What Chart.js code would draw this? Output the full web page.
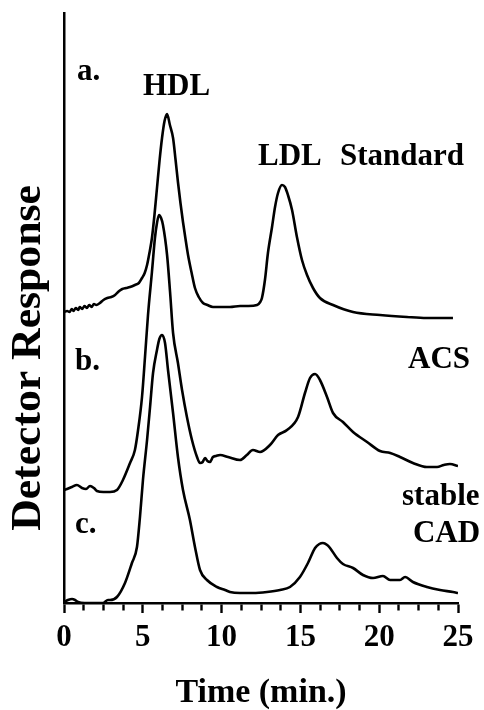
<!DOCTYPE html>
<html>
<head>
<meta charset="utf-8">
<script src="https://cdn.jsdelivr.net/npm/chart.js@4"></script>
<style>
html,body{margin:0;padding:0;background:#fff}
</style>
</head>
<body>
<canvas id="myChart" width="484" height="710"></canvas>
<script>
// values: time (min) vs detector response (arbitrary units, traces offset)
const aTime=[0,0.2,0.35,0.5,0.6,0.75,0.9,1,1.15,1.3,1.45,1.6,1.75,1.9,2.05,2.28,2.5,2.75,3,3.24,3.5,3.7,3.95,4.19,4.5,4.75,4.95,5.12,5.27,5.42,5.58,5.74,5.9,6.06,6.22,6.38,6.54,6.72,6.92,7.08,7.23,7.39,7.55,7.71,7.87,8.1,8.31,8.55,8.82,9.1,9.45,9.9,10.53,11.17,11.7,12.25,12.45,12.56,12.75,12.94,13.2,13.39,13.58,13.83,14.02,14.21,14.47,14.78,15.1,15.42,15.8,16.24,17.07,18.34,20.05,21.76,23,24.68];
const aResp=[291,292,291,294,292,295,293,296,294,297,295,298,296,299,298,300,303,305,306,308,312,314,315,316,318,320,325,330,338,350,365,388,415,442,465,482,489,478,465,443,421,400,381,364,348,330,315,306,300,298,296,296,296,297,297,298,301,305,323,350,376,396,410,418,416,408,393,366,343,328,315,305,298,291,288,286,285,285];

const bTime=[0,0.19,0.5,0.82,1.14,1.4,1.65,1.9,2.09,2.5,2.92,3.36,3.74,4.19,4.5,4.7,4.95,5.14,5.33,5.58,5.77,5.9,6.03,6.16,6.28,6.54,6.73,6.92,7.23,7.49,7.8,8.12,8.44,8.63,8.8,8.95,9.1,9.26,9.45,9.65,9.9,10.41,11.17,11.6,11.99,12.44,13.07,13.58,14.15,14.85,15.29,15.61,15.93,16.24,16.69,17.07,17.7,18.34,19.23,20.05,20.7,21.32,22.14,23.03,23.67,24.1,24.49,25];
const bResp=[113,114,116,118,115,114,117,115,112,111,111,113,123,140,153,173,206,246,288,331,365,380,388,385,378,348,311,270,240,213,186,163,146,140,141,145,142,141,146,147,148,146,143,148,153,151,158,168,173,186,210,225,229,223,206,190,181,171,161,152,150,146,140,136,136,138,139,137];

const cTime=[0,0.25,0.51,0.7,0.89,1.3,1.84,2.47,2.79,2.92,3.36,3.87,4.31,4.63,4.82,5.01,5.27,5.46,5.65,5.9,6.05,6.22,6.41,6.6,6.92,7.23,7.55,7.99,8.31,8.63,9.07,9.71,10.22,10.53,11.17,11.99,12.88,13.71,14.34,14.97,15.48,15.93,16.2,16.43,16.7,16.88,17.32,17.7,18.34,18.97,19.61,20.24,20.69,21.32,21.64,22.14,23.03,23.86,24.68,25];
const cResp=[1,3,4,3,1,0,0,0,3,3,6,20,40,56,86,123,163,196,230,253,264,268,260,233,190,146,113,83,56,33,23,16,13,11,10,10,11,13,16,26,40,55,59,60,58,55,45,39,35,28,25,27,23,23,26,21,16,13,11,10];

const xMax=25, yMax=590, xMinorStep=1.25, xMajorStep=5;

// trace labels, placed in data coordinates
const notes=[
  {text:'a.',t:0.82,r:523},
  {text:'HDL',t:5.01,r:508},
  {text:'LDL',t:12.31,r:438},
  {text:'Standard',t:17.51,r:438},
  {text:'b.',t:0.7,r:233},
  {text:'ACS',t:21.83,r:235},
  {text:'stable',t:21.45,r:98},
  {text:'CAD',t:22.14,r:61},
  {text:'c.',t:0.7,r:70}
];

const serif="'Liberation Serif','Times New Roman',serif";
Chart.defaults.font.family=serif;
Chart.defaults.color='#000';

function pts(xs,ys){return xs.map((t,i)=>({x:t,y:ys[i]}));}
function trace(xs,ys){
  return {data:pts(xs,ys),borderColor:'#000',borderWidth:2.6,pointRadius:0,fill:false,cubicInterpolationMode:'monotone'};
}
const isMajor=v=>Math.abs(v/xMajorStep-Math.round(v/xMajorStep))<1e-6;

const notePlugin={
  id:'notes',
  afterDraw(chart){
    const {ctx,scales:{x,y}}=chart;
    ctx.save();
    ctx.fillStyle='#000';
    ctx.font='bold 31px '+serif;
    ctx.textBaseline='alphabetic';
    ctx.textAlign='left';
    notes.forEach(n=>ctx.fillText(n.text,x.getPixelForValue(n.t),y.getPixelForValue(n.r)));
    // y axis title
    ctx.translate(40,358);
    ctx.rotate(-Math.PI/2);
    ctx.scale(1.04,1);
    ctx.textAlign='center';
    ctx.font='bold 42px '+serif;
    ctx.fillText('Detector Response',0,0);
    ctx.restore();
  }
};

new Chart(document.getElementById('myChart'),{
  type:'line',
  data:{datasets:[trace(aTime,aResp),trace(bTime,bResp),trace(cTime,cResp)]},
  options:{
    responsive:false,
    animation:false,
    layout:{padding:{top:13,right:26,left:0,bottom:0}},
    plugins:{legend:{display:false},tooltip:{enabled:false}},
    scales:{
      x:{
        type:'linear',min:0,max:xMax,
        afterFit:s=>{s.height=107;},
        ticks:{stepSize:xMinorStep,autoSkip:false,maxRotation:0,padding:6,
          font:{size:31,weight:'bold'},color:'#000',
          callback:v=>isMajor(v)?v:''},
        grid:{display:true,drawOnChartArea:false,drawTicks:true,tickLength:10,tickWidth:2.4,tickColor:'#000',
          tickBorderDash:c=>isMajor(c.tick.value)?[]:[6,20]},
        border:{display:true,color:'#000',width:2.5},
        title:{display:true,text:'Time (min.)',color:'#000',font:{size:34,weight:'bold',lineHeight:1.0},padding:0}
      },
      y:{
        type:'linear',min:0,max:yMax,
        afterFit:s=>{s.width=64;},
        ticks:{display:false},
        grid:{display:false},
        border:{display:true,color:'#000',width:2.5}
      }
    }
  },
  plugins:[notePlugin]
});
</script>
</body>
</html>
